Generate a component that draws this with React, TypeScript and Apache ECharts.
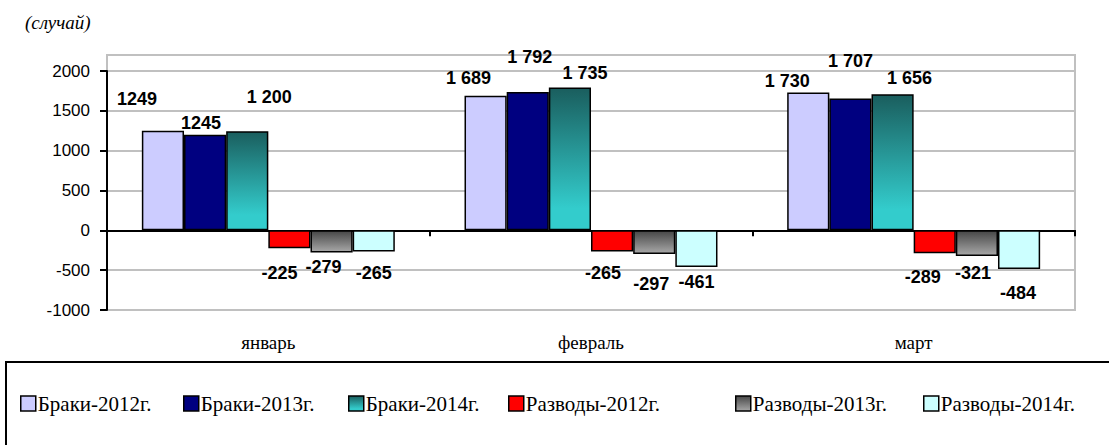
import React, { useEffect, useRef } from 'react';
import * as echarts from 'echarts';

const months = ['январь', 'февраль', 'март'];
const yTicks = [-1000, -500, 0, 500, 1000, 1500, 2000];

const braki2012 = [1249, 1689, 1730];
const braki2013 = [1200, 1735, 1656];
const braki2014 = [1245, 1792, 1707];
const razvody2012 = [-225, -265, -289];
const razvody2013 = [-279, -297, -321];
const razvody2014 = [-265, -461, -484];

const brakiLabels2012 = ['1249', '1 689', '1 730'];
const brakiLabels2013 = ['1245', '1 792', '1 707'];
const brakiLabels2014 = ['1 200', '1 735', '1 656'];
const razvodyLabels2012 = ['-225', '-265', '-289'];
const razvodyLabels2013 = ['-279', '-297', '-321'];
const razvodyLabels2014 = ['-265', '-461', '-484'];

const seriesNames = ['Браки-2012г.', 'Браки-2013г.', 'Браки-2014г.', 'Разводы-2012г.', 'Разводы-2013г.', 'Разводы-2014г.'];

// label shifts relative to the bar end [dx, dy]
const labelShift2012b = [[-26, -32], [-17, -18], [-21, -12]];
const labelShift2013b = [[-4, -12], [2, -35], [0, -37]];
const labelShift2014b = [[22, -34], [15, -15], [17, -16]];
const labelShift2012r = [[-10, 25], [-9, 22], [-12, 24]];
const labelShift2013r = [[-8, 14], [-3, 30], [-4, 17]];
const labelShift2014r = [[0, 22], [0, 15], [-1, 24]];

const legendLeft = [20, 183, 348, 508, 735, 923];

const SANS = '"Liberation Sans", Arial, sans-serif';
const SERIF = '"Liberation Serif", "Times New Roman", serif';

function makeSeries(name: string, values: number[], labels: string[], shifts: number[][], color: any, positive: boolean) {
  return {
    type: 'bar',
    name,
    xAxisIndex: 0,
    yAxisIndex: 0,
    barGap: '0%',
    barCategoryGap: '21.6%',
    itemStyle: { color, borderColor: '#000', borderWidth: 1.5 },
    label: {
      show: true,
      position: positive ? 'top' : 'bottom',
      distance: 0,
      verticalAlign: 'middle',
      align: 'center',
      fontFamily: SANS,
      fontWeight: 'bold',
      fontSize: 18,
      color: '#000',
      formatter: (p: any) => labels[p.dataIndex],
    },
    data: values.map((v, i) => ({ value: v, label: { offset: shifts[i] } })),
  };
}

export default function App() {
  const ref = useRef<HTMLDivElement>(null);
  useEffect(() => {
    const chart = echarts.init(ref.current!, null, { renderer: 'svg' });
    const teal = new echarts.graphic.LinearGradient(0, 0, 0, 1, [
      { offset: 0, color: '#1a5e5e' },
      { offset: 0.85, color: '#33cccc' },
      { offset: 1, color: '#33cccc' },
    ]);
    const gray = new echarts.graphic.LinearGradient(0, 0, 0, 1, [
      { offset: 0, color: '#474747' },
      { offset: 1, color: '#a8a8a8' },
    ]);
    const option: any = {
      animation: false,
      backgroundColor: '#fff',
      grid: { left: 107, right: 34, top: 71, bottom: 135, containLabel: false },
      graphic: [
        {
          type: 'rect',
          z: 0,
          silent: true,
          shape: { x: 107, y: 55, width: 968, height: 255 },
          style: { fill: 'none', stroke: '#c0c0c0', lineWidth: 2 },
        },
        {
          type: 'rect',
          silent: true,
          shape: { x: 6, y: 362, width: 1110, height: 120 },
          style: { fill: 'none', stroke: '#000', lineWidth: 2 },
        },
        {
          type: 'text',
          x: 25,
          y: 22,
          style: {
            text: '(случай)',
            font: 'italic 19px ' + SERIF,
            fill: '#000',
            verticalAlign: 'middle',
            align: 'left',
          },
        },
      ],
      legend: seriesNames.map((n, i) => ({
        data: [n],
        left: legendLeft[i],
        top: 393,
        padding: 0,
        itemWidth: 15,
        itemHeight: 15,
        itemGap: 0,
        icon: 'rect',
        selectedMode: false,
        itemStyle: { borderColor: '#000', borderWidth: 1.5 },
        textStyle: { fontFamily: SERIF, fontSize: 21, color: '#000', padding: [0, 0, 0, -3] },
      })),
      xAxis: [
        {
          type: 'category',
          data: months,
          axisLine: { onZero: true, lineStyle: { color: '#000', width: 2 } },
          axisTick: { show: true, length: 6, lineStyle: { color: '#000', width: 2 } },
          axisLabel: { show: false },
          splitLine: { show: false },
        },
        {
          type: 'category',
          data: months,
          position: 'bottom',
          axisLine: { show: false },
          axisTick: { show: false },
          axisLabel: { show: true, margin: 23, fontFamily: SERIF, fontSize: 19, color: '#000' },
          splitLine: { show: false },
        },
      ],
      yAxis: {
        type: 'value',
        min: yTicks[0],
        max: yTicks[yTicks.length - 1],
        interval: 500,
        axisLine: { show: true, lineStyle: { color: '#000', width: 2 } },
        axisTick: { show: true, inside: false, length: 7, lineStyle: { color: '#000', width: 2 } },
        axisLabel: { margin: 17, fontFamily: SANS, fontSize: 17, color: '#000', formatter: (v: number) => String(v) },
        splitLine: { show: true, lineStyle: { color: '#c0c0c0', width: 2 } },
      },
      series: [
        makeSeries(seriesNames[0], braki2012, brakiLabels2012, labelShift2012b, '#ccccff', true),
        makeSeries(seriesNames[1], braki2013, brakiLabels2013, labelShift2013b, '#000080', true),
        makeSeries(seriesNames[2], braki2014, brakiLabels2014, labelShift2014b, teal, true),
        makeSeries(seriesNames[3], razvody2012, razvodyLabels2012, labelShift2012r, '#ff0000', false),
        makeSeries(seriesNames[4], razvody2013, razvodyLabels2013, labelShift2013r, gray, false),
        makeSeries(seriesNames[5], razvody2014, razvodyLabels2014, labelShift2014r, '#ccffff', false),
      ],
    };
    chart.setOption(option);
    return () => chart.dispose();
  }, []);
  return <div ref={ref} style={{ position: 'absolute', left: 0, top: 0, width: 1109, height: 445 }} />;
}
